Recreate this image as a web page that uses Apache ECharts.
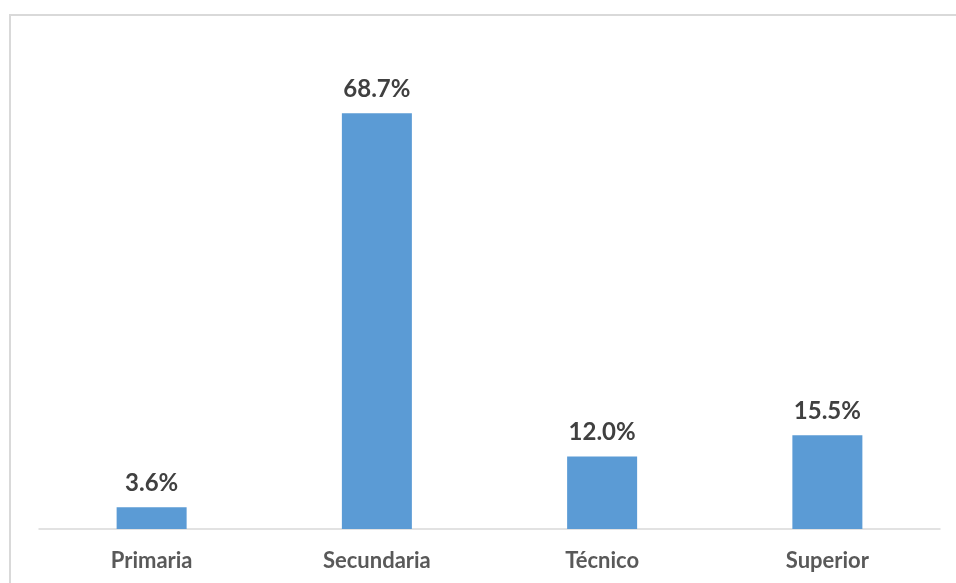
<!DOCTYPE html>
<html>
<head>
<meta charset="utf-8">
<script src="https://cdn.jsdelivr.net/npm/echarts@6/dist/echarts.min.js"></script>
<style>
html,body{margin:0;padding:0;background:#fff;}
#chart{width:956px;height:583px;}
</style>
</head>
<body>
<div id="chart"></div>
<script>
var categories = ['Primaria', 'Secundaria', 'Técnico', 'Superior'];
var values = [3.6, 68.7, 12.0, 15.5];

var chart = echarts.init(document.getElementById('chart'), null, {renderer: 'canvas'});
chart.setOption({
  animation: false,
  backgroundColor: '#ffffff',
  graphic: [{
    type: 'rect',
    shape: {x: 10, y: 15, width: 1000, height: 1000},
    style: {fill: 'none', stroke: '#d9d9d9', lineWidth: 2},
    silent: true
  }],
  grid: {left: 39, right: 16, top: 45, bottom: 54, containLabel: false},
  xAxis: {
    type: 'category',
    data: categories,
    axisLine: {show: true, lineStyle: {color: '#d9d9d9', width: 1.5}},
    axisTick: {show: false},
    axisLabel: {
      color: '#595959',
      fontFamily: 'Lato',
      fontWeight: 'bold',
      fontSize: 22,
      margin: 21
    }
  },
  yAxis: {
    type: 'value',
    min: 0,
    max: 80,
    show: false,
    splitLine: {show: false}
  },
  series: [{
    type: 'bar',
    data: values,
    barWidth: 70,
    itemStyle: {color: '#5b9bd5'},
    label: {
      show: true,
      position: 'top',
      distance: 12,
      formatter: function (p) { return p.value.toFixed(1) + '%'; },
      color: '#404040',
      fontFamily: 'Lato',
      fontWeight: 'bold',
      fontSize: 24
    }
  }]
});
</script>
</body>
</html>
